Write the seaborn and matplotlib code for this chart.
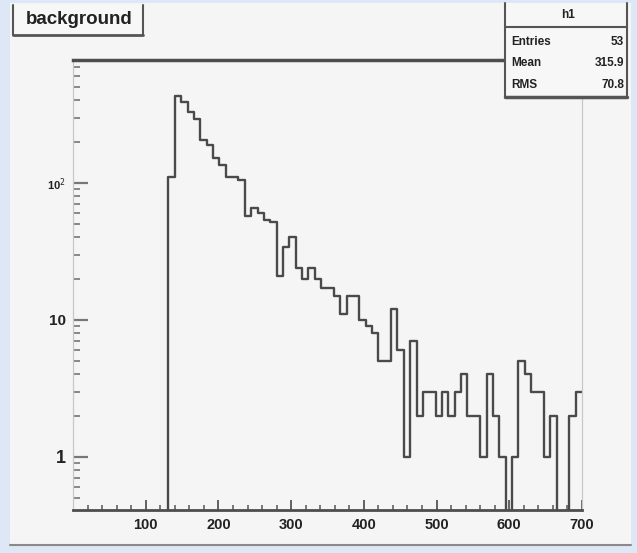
import numpy as np
import pandas as pd
import matplotlib
matplotlib.use("Agg")
import matplotlib.pyplot as plt
from matplotlib.patches import Rectangle
from matplotlib.lines import Line2D
from matplotlib.ticker import FixedLocator, NullFormatter
import seaborn as sns

# ---- histogram definition: 80 equal bins on [0, 700] ----
x_min, x_max, n_bins = 0.0, 700.0, 80
counts = [0] * 15 + [
    110, 432, 390, 330, 293, 206, 189, 152, 135, 110,
    110, 105, 57, 66, 60, 54, 52, 21, 34, 40,
    24, 20, 24, 20, 17, 17, 15, 11, 15, 15,
    10, 9, 8, 5, 5, 12, 6, 1, 7, 2,
    3, 3, 2, 3, 2, 3, 4, 2, 2, 1,
    4, 2, 1, 0, 1, 5, 4, 3, 3, 1,
    2, 0, 0, 2, 3,
]
x_ticks = [100, 200, 300, 400, 500, 600, 700]
y_ticks = [1, 10, 100]
y_tick_labels = ["1", "10", "10$^{2}$"]
title = "background"
stats_name = "h1"
stats_rows = [("Entries", "53"), ("Mean", "315.9"), ("RMS", "70.8")]

edges = np.linspace(x_min, x_max, n_bins + 1)
centers = 0.5 * (edges[:-1] + edges[1:])
df = pd.DataFrame({"x": centers, "n": counts})

W, H = 637, 553
def fx(px):
    return px / W
def fy(py):
    return 1 - py / H

sns.set_style("white")
plt.rcParams["font.family"] = ["Liberation Sans", "DejaVu Sans"]

fig = plt.figure(figsize=(W / 100, H / 100), dpi=100, facecolor="#dde7f5")

# canvas pad
fig.patches.append(Rectangle((fx(10), fy(545)), fx(631) - fx(10), fy(3) - fy(545),
                             transform=fig.transFigure, facecolor="#f5f5f5",
                             edgecolor="none", zorder=-5))
fig.lines.append(Line2D([fx(10), fx(631)], [fy(545), fy(545)], transform=fig.transFigure,
                        color="#8a8a8a", lw=1.5, zorder=-4))

ax = fig.add_axes([fx(73), fy(510), fx(582) - fx(73), fy(60) - fy(510)])
ax.set_facecolor("#f5f5f5")

sns.histplot(data=df, x="x", weights="n", bins=n_bins, binrange=(x_min, x_max),
             element="step", fill=False, color="#4a4a4a", linewidth=1.7, ax=ax)
ax.set_yscale("log")
ax.set_xlim(x_min, x_max)
ax.set_ylim(0.41, 790)
ax.set_xlabel("")
ax.set_ylabel("")

# frame
for side in ["left", "right"]:
    ax.spines[side].set_color("#c8c8c8")
    ax.spines[side].set_linewidth(0.9)
ax.spines["top"].set_color("#4d4d4d")
ax.spines["top"].set_linewidth(2.5)
ax.spines["bottom"].set_color("#4d4d4d")
ax.spines["bottom"].set_linewidth(2.0)

# x axis ticks
ax.set_xticks(x_ticks)
ax.set_xticklabels([str(t) for t in x_ticks], fontsize=10.5, fontweight="bold", color="#222222")
ax.xaxis.set_minor_locator(FixedLocator(np.arange(20, 700, 20)))
ax.tick_params(axis="x", which="major", direction="in", length=7, width=1.3,
               color="#555555", pad=6, bottom=True, top=False)
ax.tick_params(axis="x", which="minor", direction="in", length=3.6, width=1.1,
               color="#555555", bottom=True, top=False)

# y axis ticks
minor_y = [m * 10.0 ** e for e in range(-1, 3) for m in range(2, 10)]
minor_y = [v for v in minor_y if 0.41 <= v <= 790]
ax.set_yticks(y_ticks)
ax.set_yticklabels(y_tick_labels, fontweight="bold", color="#222222")
ax.yaxis.set_minor_locator(FixedLocator(minor_y))
ax.yaxis.set_minor_formatter(NullFormatter())
ax.tick_params(axis="y", which="major", direction="in", length=11, width=1.6,
               color="#777777", pad=5, left=True, right=False)
ax.tick_params(axis="y", which="minor", direction="in", length=5, width=1.4,
               color="#888888", left=True, right=False)
sizes = [13, 11, 8]
for lab, s in zip(ax.get_yticklabels(), sizes):
    lab.set_fontsize(s)

# title box
fig.patches.append(Rectangle((fx(13), fy(35)), fx(143) - fx(13), fy(5) - fy(35),
                             transform=fig.transFigure, facecolor="#f7f7f7",
                             edgecolor="none", zorder=5))
for xs, ys, lw in [([13, 13], [5, 35], 1.5), ([143, 143], [5, 35], 1.5), ([13, 143], [35, 35], 2.0)]:
    fig.lines.append(Line2D([fx(v) for v in xs], [fy(v) for v in ys], transform=fig.transFigure,
                            color="#555555", lw=lw, zorder=6))
fig.text(fx(79), fy(19), title, ha="center", va="center", fontsize=13.5,
         fontweight="bold", color="#222222", zorder=7)

# statistics box
fig.patches.append(Rectangle((fx(505), fy(97)), fx(627) - fx(505), fy(3) - fy(97),
                             transform=fig.transFigure, facecolor="#f7f7f7",
                             edgecolor="none", zorder=5))
for xs, ys, lw in [([505, 505], [3, 97], 1.5), ([627, 627], [3, 97], 1.5),
                   ([505, 627], [97, 97], 2.5), ([505, 627], [27, 27], 1.5)]:
    fig.lines.append(Line2D([fx(v) for v in xs], [fy(v) for v in ys], transform=fig.transFigure,
                            color="#555555", lw=lw, zorder=6))
fig.text(fx(568), fy(15), stats_name, ha="center", va="center", fontsize=8.5,
         fontweight="bold", color="#222222", zorder=7)
for (name, val), yy in zip(stats_rows, [42, 63, 85]):
    fig.text(fx(511), fy(yy), name, ha="left", va="center", fontsize=8.5,
             fontweight="bold", color="#222222", zorder=7)
    fig.text(fx(624), fy(yy), val, ha="right", va="center", fontsize=8.5,
             fontweight="bold", color="#222222", zorder=7)

fig.savefig("out.png", dpi=100, facecolor=fig.get_facecolor())
